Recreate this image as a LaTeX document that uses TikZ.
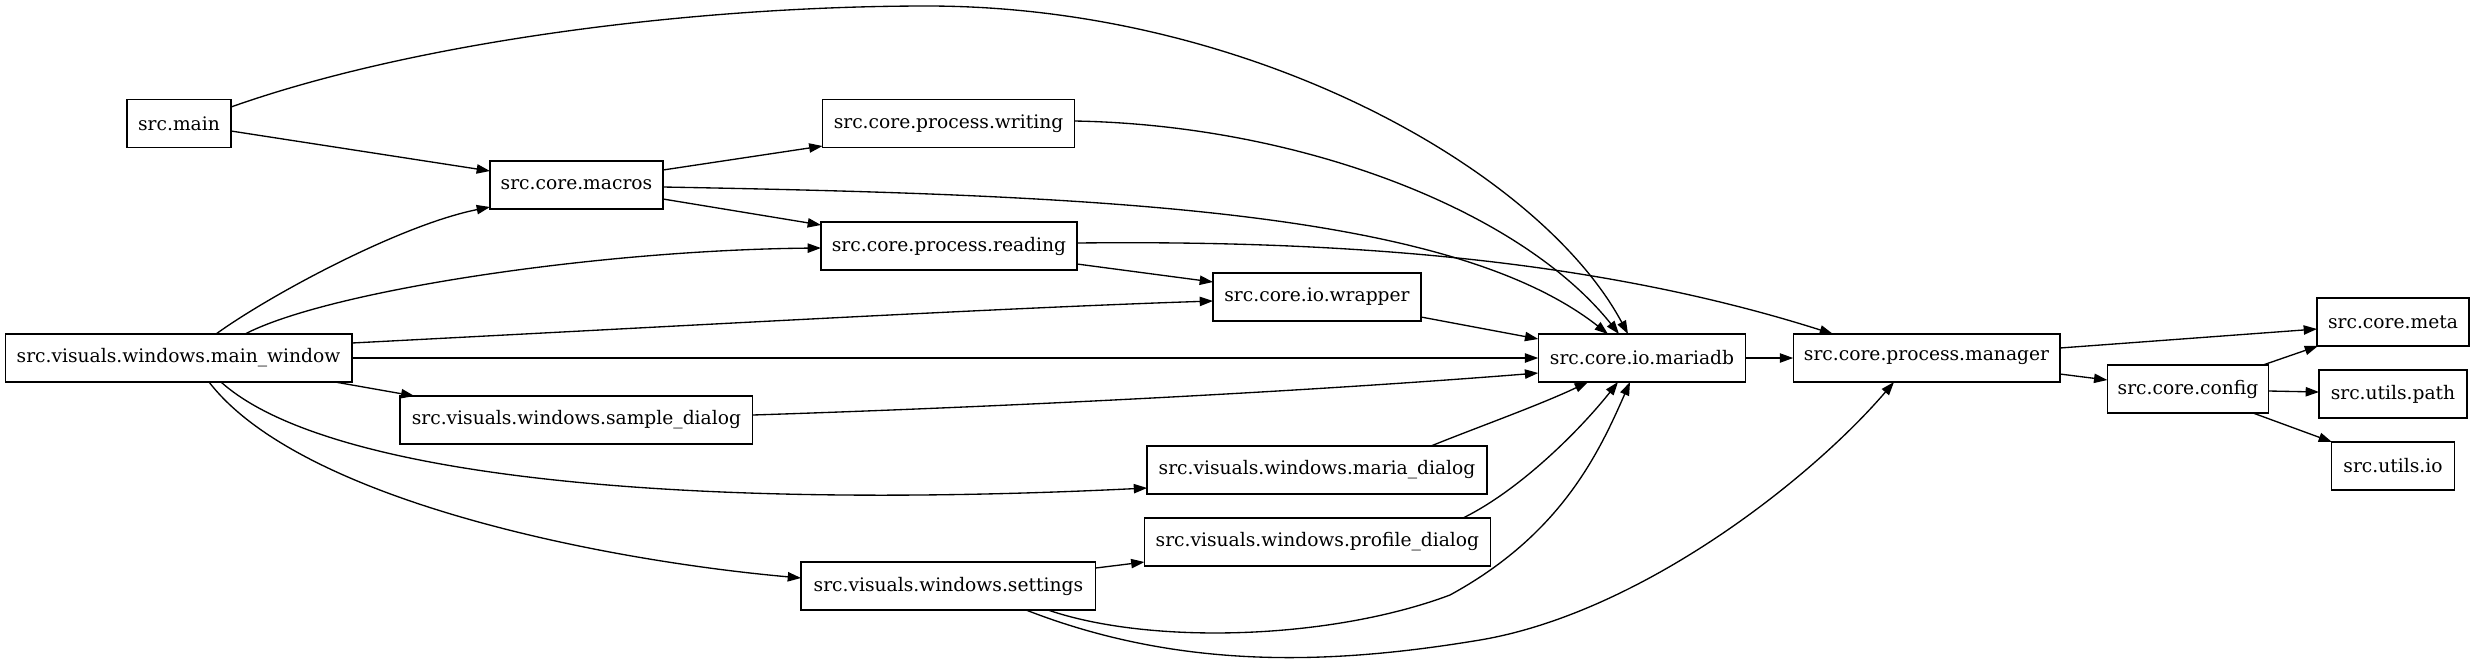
\documentclass[tikz,border=0pt]{standalone}
\usepackage{fontspec}
\setmainfont{DejaVu Serif}
\usetikzlibrary{arrows.meta}
\begin{document}
\begin{tikzpicture}[x=0.75pt,y=-0.75pt,
  mod/.style={draw,line width=1pt,rectangle,inner sep=0pt,outer sep=0pt,minimum height=36pt,
    font=\fontsize{14pt}{16pt}\selectfont},
  dep/.style={line width=1pt,-{Triangle[length=10pt,width=7pt]}}]
\useasboundingbox (0,0) rectangle (2475,662);
% nodes
\node[mod,minimum width=78pt]    (main)     at (179,123.5)  {src.main};
\node[mod,minimum width=129.75pt](macros)   at (576.5,185)  {src.core.macros};
\node[mod,minimum width=189pt]   (writing)  at (948.5,123.5){src.core.process.writing};
\node[mod,minimum width=192pt]   (reading)  at (949,246)    {src.core.process.reading};
\node[mod,minimum width=156pt]   (wrapper)  at (1317,297)   {src.core.io.wrapper};
\node[mod,minimum width=260pt]   (mw)       at (178.5,358)  {src.visuals.windows.main\_window};
\node[mod,minimum width=155.6pt] (mariadb)  at (1642,358)   {src.core.io.mariadb};
\node[mod,minimum width=200pt]   (manager)  at (1926.5,358) {src.core.process.manager};
\node[mod,minimum width=121pt]   (config)   at (2188,389)   {src.core.config};
\node[mod,minimum width=114pt]   (meta)     at (2393,322)   {src.core.meta};
\node[mod,minimum width=111pt]   (path)     at (2393,394)   {src.utils.path};
\node[mod,minimum width=92.5pt]  (uio)      at (2393,466)   {src.utils.io};
\node[mod,minimum width=264.5pt] (sample)   at (576.4,420)  {src.visuals.windows.sample\_dialog};
\node[mod,minimum width=221pt]   (settings) at (948.4,586)  {src.visuals.windows.settings};
\node[mod,minimum width=254.8pt] (maria)    at (1317,470)   {src.visuals.windows.maria\_dialog};
\node[mod,minimum width=259.4pt] (profile)  at (1317.4,542) {src.visuals.windows.profile\_dialog};
% edges
\draw[dep] ([shift={(0,-16.5)}]main.east) .. controls (420,40) and (700,6) .. (927,6)
  .. controls (1250,6) and (1540,170) .. ([shift={(-14,0)}]mariadb.north);
\draw[dep] ([shift={(0,7.5)}]main.east) -- ([shift={(0,-14)}]macros.west);
\draw[dep] ([shift={(0,-15)}]macros.east) -- ([shift={(0,22.5)}]writing.west);
\draw[dep] ([shift={(0,2)}]macros.east) .. controls (1100,195) and (1450,210) .. ([shift={(-34,0)}]mariadb.north);
\draw[dep] ([shift={(0,14)}]macros.east) -- ([shift={(0,-21)}]reading.west);
\draw[dep] ([shift={(37.5,0)}]mw.north) .. controls (270,295) and (400,225) .. ([shift={(0,22)}]macros.west);
\draw[dep] ([shift={(66.5,0)}]mw.north) .. controls (330,290) and (600,250) .. ([shift={(0,2)}]reading.west);
\draw[dep] ([shift={(0,-15)}]mw.east) .. controls (700,325) and (1000,308) .. ([shift={(0,4)}]wrapper.west);
\draw[dep] (mw.east) -- (mariadb.west);
\draw[dep] ([shift={(156.5,0)}]mw.south) -- ([shift={(-162,0)}]sample.north);
\draw[dep] ([shift={(42.5,0)}]mw.south) .. controls (330,480) and (700,510) .. ([shift={(0,18)}]maria.west);
\draw[dep] ([shift={(30.5,0)}]mw.south) .. controls (300,500) and (600,560) .. ([shift={(0,-8)}]settings.west);
\draw[dep] ([shift={(0,-2.5)}]writing.east) .. controls (1300,125) and (1520,210) .. ([shift={(-23,0)}]mariadb.north);
\draw[dep] ([shift={(0,18)}]reading.east) -- ([shift={(0,-15)}]wrapper.west);
\draw[dep] ([shift={(0,-3)}]reading.east) .. controls (1350,240) and (1600,260) .. ([shift={(-93.5,0)}]manager.north);
\draw[dep] ([shift={(0,20)}]wrapper.east) -- ([shift={(0,-19)}]mariadb.west);
\draw[dep] ([shift={(0,-5)}]sample.east) .. controls (1000,407) and (1300,392) .. ([shift={(0,15)}]mariadb.west);
\draw[dep] ([shift={(114,0)}]maria.north) .. controls (1470,430) and (1540,405) .. ([shift={(-54,0)}]mariadb.south);
\draw[dep] ([shift={(145.6,0)}]profile.north) .. controls (1520,490) and (1580,430) .. ([shift={(-24,0)}]mariadb.south);
\draw[dep] ([shift={(0,-18)}]settings.east) -- ([shift={(0,20)}]profile.west);
\draw[dep] ([shift={(99.6,0)}]settings.south) .. controls (1150,645) and (1330,640) .. (1450,595)
  .. controls (1560,535) and (1598,455) .. ([shift={(-12,0)}]mariadb.south);
\draw[dep] ([shift={(77.6,0)}]settings.south) .. controls (1180,670) and (1330,665) .. (1480,640)
  .. controls (1640,613) and (1810,480) .. ([shift={(-32.5,0)}]manager.south);
\draw[dep] (mariadb.east) -- (manager.west);
\draw[dep] ([shift={(0,-10)}]manager.east) -- ([shift={(0,7)}]meta.west);
\draw[dep] ([shift={(0,16)}]manager.east) -- ([shift={(0,-9)}]config.west);
\draw[dep] ([shift={(75,0)}]config.north) -- ([shift={(-75,0)}]meta.south);
\draw[dep] ([shift={(0,2)}]config.east) -- ([shift={(0,-2)}]path.west);
\draw[dep] ([shift={(65,0)}]config.south) -- ([shift={(-61,0)}]uio.north);
\end{tikzpicture}
\end{document}
